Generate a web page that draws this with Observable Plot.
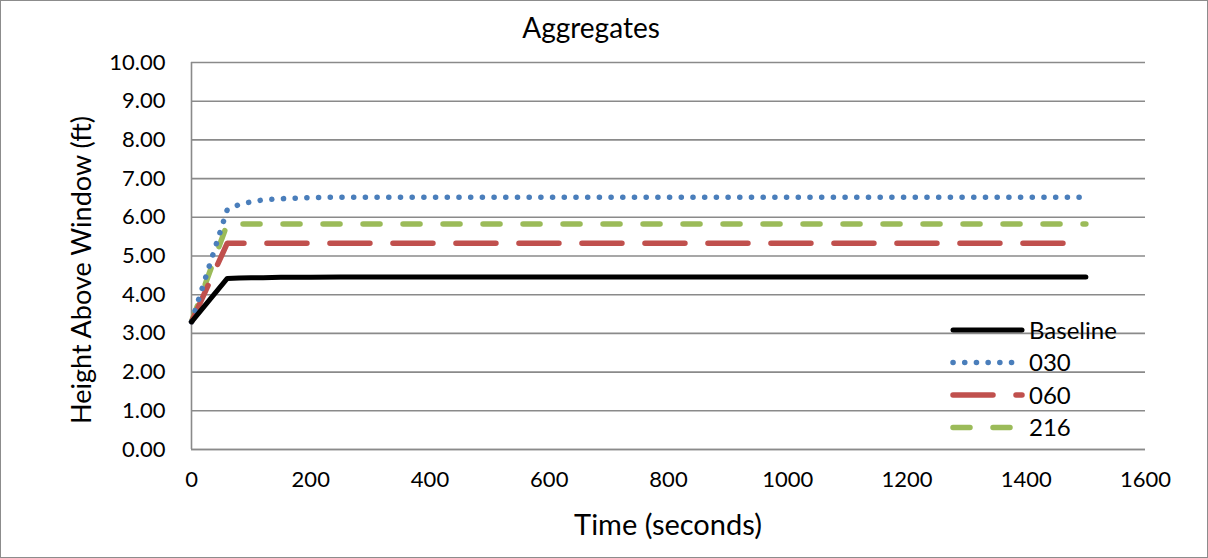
<!DOCTYPE html>
<html>
<head>
<meta charset="utf-8">
<script src="https://cdn.jsdelivr.net/npm/d3@7"></script>
<script src="https://cdn.jsdelivr.net/npm/@observablehq/plot@0.6"></script>
<style>
  html, body { margin: 0; padding: 0; background: #fff; }
  #wrap { position: relative; width: 1208px; height: 558px; font-family: Lato, "Open Sans", sans-serif; color: #000; }
  #frame { position: absolute; left: 0; top: 0; width: 1206px; height: 556px; border: 1px solid #8c8c8c; pointer-events: none; }
  .ov { position: absolute; white-space: nowrap; }
  #title { left: 591px; top: 27px; font-size: 28px; transform: translate(-50%, -50%); }
  #ytitle { left: 80px; top: 270px; font-size: 27px; transform: translate(-50%, -50%) rotate(-90deg); }
  #xtitle { left: 668px; top: 523px; font-size: 29px; transform: translate(-50%, -50%); }
  #legend { left: 940px; top: 312px; }
</style>
</head>
<body>
<div id="wrap">
  <div id="chart"></div>
  <div id="title" class="ov">Aggregates</div>
  <div id="ytitle" class="ov">Height Above Window (ft)</div>
  <div id="xtitle" class="ov">Time (seconds)</div>
  <div id="legend" class="ov"></div>
  <div id="frame"></div>
</div>
<script>
// ---- data ----
const time     = [0, 60, 80, 100, 120, 150, 200, 250, 300, 400, 500, 600, 700, 800, 900, 1000, 1100, 1200, 1300, 1400, 1500];
const baseline = [3.30, 4.42, 4.43, 4.44, 4.44, 4.45, 4.45, 4.46, 4.46, 4.46, 4.46, 4.46, 4.46, 4.46, 4.46, 4.46, 4.46, 4.46, 4.46, 4.46, 4.46];
const s030     = [3.30, 6.20, 6.33, 6.40, 6.45, 6.48, 6.51, 6.52, 6.52, 6.52, 6.52, 6.52, 6.52, 6.52, 6.52, 6.52, 6.52, 6.52, 6.52, 6.52, 6.52];
const s060     = [3.30, 5.33, 5.33, 5.33, 5.33, 5.33, 5.33, 5.33, 5.33, 5.33, 5.33, 5.33, 5.33, 5.33, 5.33, 5.33, 5.33, 5.33, 5.33, 5.33, 5.33];
const s216     = [3.30, 5.83, 5.83, 5.83, 5.83, 5.83, 5.83, 5.83, 5.83, 5.83, 5.83, 5.83, 5.83, 5.83, 5.83, 5.83, 5.83, 5.83, 5.83, 5.83, 5.83];
const seriesNames = ["Baseline", "030", "060", "216"];
const xTicks = [0, 200, 400, 600, 800, 1000, 1200, 1400, 1600];
const yTicks = [0, 1, 2, 3, 4, 5, 6, 7, 8, 9, 10];

const styles = {
  "Baseline": {stroke: "#000000", strokeWidth: 5, strokeDasharray: null, strokeLinecap: "round"},
  "030": {stroke: "#4a7ebb", strokeWidth: 5.5, strokeDasharray: "0.1,11.6", strokeLinecap: "round"},
  "060": {stroke: "#c0504d", strokeWidth: 5.5, strokeDasharray: "40,23", strokeLinecap: "round"},
  "216": {stroke: "#9bbb59", strokeWidth: 5.5, strokeDasharray: "17,23", strokeLinecap: "round"}
};
const valuesBy = {"Baseline": baseline, "030": s030, "060": s060, "216": s216};
const drawOrder = ["216", "060", "030", "Baseline"];

const lineMarks = drawOrder.map(name => {
  const rows = time.map((t, i) => ({t, v: valuesBy[name][i]}));
  const st = styles[name];
  const opts = {x: "t", y: "v", stroke: st.stroke, strokeWidth: st.strokeWidth, strokeLinecap: st.strokeLinecap, strokeLinejoin: "round"};
  if (st.strokeDasharray) opts.strokeDasharray = st.strokeDasharray;
  return Plot.line(rows, opts);
});

const chart = Plot.plot({
  width: 1208,
  height: 558,
  marginLeft: 191,
  marginRight: 63,
  marginTop: 62,
  marginBottom: 109,
  style: {fontFamily: "Lato, 'Open Sans', sans-serif", fontSize: "22px", color: "#000", background: "transparent"},
  x: {domain: [0, 1600], ticks: xTicks, label: null, tickFormat: d3.format("d")},
  y: {domain: [0, 10], ticks: yTicks, label: null, tickFormat: d3.format(".2f")},
  marks: [
    Plot.gridY(yTicks, {stroke: "#8a8a8a", strokeOpacity: 1, strokeWidth: 1.6}),
    Plot.ruleX([0], {stroke: "#8a8a8a", strokeWidth: 1.6}),
    Plot.ruleY([0], {stroke: "#8a8a8a", strokeWidth: 1.6}),
    Plot.axisY(yTicks, {tickSize: 0, tickPadding: 26, tickFormat: d3.format(".2f"), fill: "#000"}),
    Plot.axisX(xTicks, {tickSize: 0, tickPadding: 22, tickFormat: d3.format("d"), fill: "#000"}),
    ...lineMarks
  ]
});
document.getElementById("chart").appendChild(chart);

// ---- legend ----
const lg = d3.select("#legend");
const rowH = 32.5;
const svg = lg.append("svg").attr("width", 200).attr("height", 135).style("position", "absolute").style("left", "0px").style("top", "0px");
seriesNames.forEach((name, i) => {
  const y = 18 + i * rowH;
  const st = styles[name];
  const l = svg.append("line").attr("x1", 13).attr("x2", 82).attr("y1", y).attr("y2", y)
    .attr("stroke", st.stroke).attr("stroke-width", st.strokeWidth).attr("stroke-linecap", "round");
  if (st.strokeDasharray) l.attr("stroke-dasharray", st.strokeDasharray);
  svg.append("text").attr("x", 89).attr("y", y).attr("dy", "0.36em").attr("font-size", 24)
    .attr("font-family", "Lato, 'Open Sans', sans-serif").text(name);
});
</script>
</body>
</html>
